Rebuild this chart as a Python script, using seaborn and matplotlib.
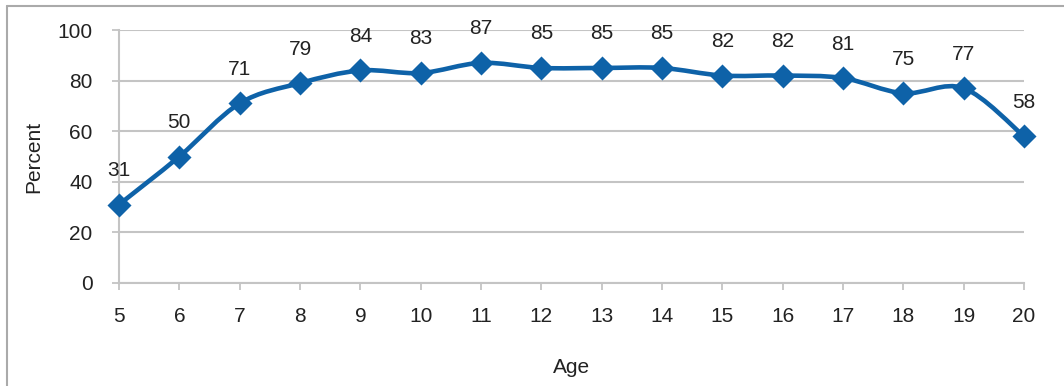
import numpy as np
import matplotlib
matplotlib.use("Agg")
import matplotlib.pyplot as plt
from matplotlib.path import Path
from matplotlib.patches import PathPatch
from matplotlib.lines import Line2D
import pandas as pd
import seaborn as sns

ages = [5, 6, 7, 8, 9, 10, 11, 12, 13, 14, 15, 16, 17, 18, 19, 20]
percent = [31, 50, 71, 79, 84, 83, 87, 85, 85, 85, 82, 82, 81, 75, 77, 58]
y_ticks = [0, 20, 40, 60, 80, 100]

BLUE = "#0E62A8"
GRID = "#C4C4C4"
TEXT = "#222222"
FS = 15

sns.set_theme(style="white")
plt.rcParams["font.family"] = ["Liberation Sans", "DejaVu Sans"]

df = pd.DataFrame({"Age": ages, "Percent": percent})

fig = plt.figure(figsize=(10.64, 3.86), dpi=100)
ax = fig.add_axes([119 / 1064, 1 - 283 / 386, (1024 - 119) / 1064, (283 - 30) / 386])

# smoothed connecting line (Catmull-Rom style cubic Bezier segments)
pts = np.column_stack([df["Age"].to_numpy(float), df["Percent"].to_numpy(float)])
verts = [tuple(pts[0])]
codes = [Path.MOVETO]
n = len(pts)
for i in range(n - 1):
    p0 = pts[i - 1] if i > 0 else pts[i]
    p1 = pts[i]
    p2 = pts[i + 1]
    p3 = pts[i + 2] if i + 2 < n else pts[i + 1]
    c1 = p1 + (p2 - p0) / 6.0
    c2 = p2 - (p3 - p1) / 6.0
    verts += [tuple(c1), tuple(c2), tuple(p2)]
    codes += [Path.CURVE4, Path.CURVE4, Path.CURVE4]
ax.add_patch(PathPatch(Path(verts, codes), facecolor="none", edgecolor=BLUE,
                       lw=3.3, capstyle="round", joinstyle="round", zorder=3, clip_on=False))

sns.scatterplot(data=df, x="Age", y="Percent", marker="D", s=150, color=BLUE,
                edgecolor=BLUE, linewidth=0, ax=ax, zorder=4, clip_on=False)

for a, p in zip(ages, percent):
    ax.annotate(f"{p}", (a, p), xytext=(0, 24.5), textcoords="offset points",
                ha="center", va="center", fontsize=FS, color=TEXT)

ax.set_xlim(5, 20)
ax.set_ylim(0, 100)
ax.set_xticks(ages)
ax.set_yticks(y_ticks)
ax.yaxis.grid(True, color=GRID, lw=1.5)
ax.xaxis.grid(False)
ax.set_axisbelow(True)

for s in ["top", "right"]:
    ax.spines[s].set_visible(False)
for s in ["left", "bottom"]:
    ax.spines[s].set_color(GRID)
    ax.spines[s].set_linewidth(1.5)

ax.tick_params(axis="both", which="major", direction="out", length=5, width=1.3,
               color=GRID, labelsize=FS, labelcolor=TEXT)
ax.tick_params(axis="y", pad=14)
ax.tick_params(axis="x", pad=12)
ax.tick_params(left=True, bottom=True)

ax.set_xlabel("Age", fontsize=FS, color=TEXT, labelpad=23)
ax.set_ylabel("Percent", fontsize=FS, color=TEXT, labelpad=10)

# outer frame (left and top edges)
fig.add_artist(Line2D([7 / 1064, 7 / 1064], [0, 1 - 5.5 / 386], transform=fig.transFigure,
                      color="#AAAAAA", lw=1.5))
fig.add_artist(Line2D([7 / 1064, 1], [1 - 5.5 / 386, 1 - 5.5 / 386], transform=fig.transFigure,
                      color="#AAAAAA", lw=1.5))

fig.savefig("out.png", dpi=100, facecolor="white")
